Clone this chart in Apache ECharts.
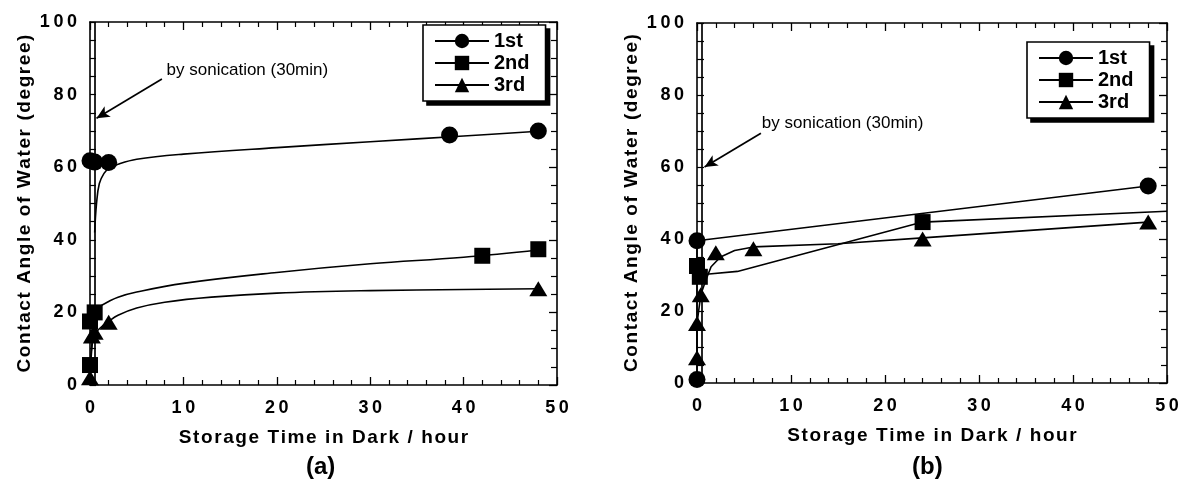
<!DOCTYPE html>
<html>
<head>
<meta charset="utf-8">
<script src="https://cdn.jsdelivr.net/npm/echarts@6/dist/echarts.min.js"></script>
<style>
html, body { margin: 0; padding: 0; background: #fff; }
#chart { width: 1184px; height: 490px; }
</style>
</head>
<body>
<div id="chart"></div>
<script>
// sonication step: 30 min = 0.5 hour
var sonicationTime = 0.5;

// panel (a) measured points [hour, degree]
var a1st = [[0, 61.8], [0.5, 61.4], [2, 61.3], [38.5, 68.9], [48, 70.0]];
var a2nd = [[0, 5.5], [0, 17.5], [0.5, 20], [42, 35.6], [48, 37.4]];
var a3rd = [[0, 2], [0.2, 13.5], [0.5, 14.5], [2, 17.3], [48, 26.5]];

// panel (a) fitted curves
var a1stFit = [[0.5, 42], [0.7, 50], [1, 55.5], [1.5, 58.3], [2, 59.6], [3, 60.8], [5, 62.2], [10, 63.6], [20, 65.4], [30, 67], [40, 68.6], [48, 69.9]];
var a2ndFit = [[0, 5.5], [0.3, 14], [0.5, 20], [1, 21.5], [2, 23], [3, 24.2], [5, 25.6], [10, 28], [20, 31], [30, 33.4], [40, 35.2], [48, 37.2]];
var a3rdFit = [[0, 2], [0.3, 13], [0.5, 14], [1, 15.5], [2, 17.5], [3, 19.2], [5, 21.2], [8, 22.8], [13, 24.2], [20, 25.3], [30, 26], [40, 26.3], [48, 26.5]];

// panel (b) measured points
var b1st = [[0, 1], [0, 39.5], [48, 54.7]];
var b2nd = [[0, 32.5], [0.3, 29.5], [24, 44.7]];
var b3rd = [[0, 7], [0, 16.5], [0.4, 24.5], [2, 36.2], [6, 37.3], [24, 40], [48, 44.7]];

// panel (b) curves
var b1stFit = [[0, 1], [0, 39.5], [48, 54.7]];
var b2ndFit = [[0.3, 29.5], [1, 30.2], [4.3, 31], [24, 44.7], [50, 47.7]];
var b3rdFit = [[0, 7], [0, 16.5], [0.4, 24.5], [1, 29], [1.5, 32.3], [2.5, 35], [4, 36.8], [6, 37.8], [15, 38.7], [24, 40.3], [48, 44.7]];

var seriesNames = ['1st', '2nd', '3rd'];
var symbols = ['circle', 'rect', 'triangle'];
var symbolSizes = [17, 16, [18, 15]];

var chart = echarts.init(document.getElementById('chart'));

// the printed figure uses letter-spaced type
function spaced(v) {
    return String(v).split('').join('\u2009');
}
function hair(v) {
    return String(v).split('').join('\u200A');
}

var labelFont = {
    color: '#000', fontFamily: 'Liberation Sans, Arial', fontWeight: 'bold', fontSize: 18
};
var nameFont = {
    color: '#000', fontFamily: 'Liberation Sans, Arial', fontWeight: 'bold', fontSize: 19
};

function xAxes(gi) {
    var line = {show: true, onZero: false, lineStyle: {color: '#000', width: 1.6}};
    return [{
            gridIndex: gi, type: 'value', min: 0, max: 50, interval: 10, position: 'bottom',
            axisLine: line,
            axisTick: {inside: true, length: 8, lineStyle: {color: '#000', width: 1.3}},
            minorTick: {show: true, splitNumber: 5, length: 5, lineStyle: {color: '#000', width: 1.2}},
            splitLine: {show: false},
            axisLabel: Object.assign({margin: 14, formatter: spaced}, labelFont),
            name: hair('Storage Time in Dark / hour'), nameLocation: 'middle', nameGap: 43,
            nameTextStyle: nameFont
        }, {
            gridIndex: gi, type: 'value', min: 0, max: 50, interval: 10, position: 'top',
            axisLine: line,
            axisTick: {inside: true, length: 8, lineStyle: {color: '#000', width: 1.3}},
            minorTick: {show: true, splitNumber: 5, length: 5, lineStyle: {color: '#000', width: 1.2}},
            splitLine: {show: false},
            axisLabel: {show: false}
        }];
}

function yAxes(gi, ladder) {
    var line = {show: true, onZero: false, lineStyle: {color: '#000', width: 1.6}};
    return [{
            gridIndex: gi, type: 'value', min: 0, max: 100, interval: 20, position: 'left',
            axisLine: line,
            axisTick: {inside: true, length: ladder, lineStyle: {color: '#000', width: 1.2}},
            minorTick: {show: true, splitNumber: 4, length: ladder, lineStyle: {color: '#000', width: 1.2}},
            splitLine: {show: false},
            axisLabel: Object.assign({margin: 13, formatter: spaced}, labelFont),
            name: hair('Contact Angle of Water (degree)'), nameLocation: 'middle', nameGap: 56,
            nameTextStyle: nameFont
        }, {
            gridIndex: gi, type: 'value', min: 0, max: 100, interval: 20, position: 'right',
            axisLine: line,
            axisTick: {inside: true, length: 8, lineStyle: {color: '#000', width: 1.3}},
            minorTick: {show: true, splitNumber: 4, length: 6, lineStyle: {color: '#000', width: 1.2}},
            splitLine: {show: false},
            axisLabel: {show: false}
        }];
}

function panelSeries(gi, pts, fits, smooth, arrowFrom, arrowTo, textAt) {
    var out = [];
    var i;
    for (i = 0; i < 3; i++) {
        out.push({
            name: seriesNames[i], type: 'line', xAxisIndex: gi * 2, yAxisIndex: gi * 2,
            data: fits[i], smooth: smooth, showSymbol: false, symbol: symbols[i],
            lineStyle: {color: '#000', width: 1.6}, itemStyle: {color: '#000'},
            silent: true, z: 2, animation: false
        });
    }
    for (i = 0; i < 3; i++) {
        var s = {
            name: seriesNames[i] + ' pts', type: 'scatter', xAxisIndex: gi * 2, yAxisIndex: gi * 2,
            data: pts[i], symbol: symbols[i], symbolSize: symbolSizes[i],
            itemStyle: {color: '#000', opacity: 1}, z: 3, animation: false
        };
        if (i === 0) {
            s.markLine = {
                silent: true, animation: false,
                lineStyle: {color: '#000', width: 1.7, type: 'solid'},
                label: {show: false},
                data: [
                    [{coord: [sonicationTime, 0], symbol: 'none'}, {coord: [sonicationTime, 100], symbol: 'none'}],
                    [{coord: arrowFrom, symbol: 'none'}, {coord: arrowTo, symbol: 'arrow', symbolSize: [9, 13]}]
                ]
            };
            s.markPoint = {
                silent: true, animation: false, symbol: 'circle', symbolSize: 0,
                label: {show: true, position: 'right', distance: 0, formatter: 'by sonication (30min)',
                    color: '#000', fontFamily: 'Liberation Sans, Arial', fontSize: 17},
                data: [{coord: textAt}]
            };
        }
        out.push(s);
    }
    return out;
}

var legendBase = {
    orient: 'vertical', itemWidth: 54, itemHeight: 18, itemGap: 2, itemTextGap: 3,
    data: seriesNames, selectedMode: false, z: 10,
    backgroundColor: '#fff', borderColor: '#000', borderWidth: 1.6, borderRadius: 0,
    padding: [6, 16, 6, 11],
    textStyle: {color: '#000', fontFamily: 'Liberation Sans, Arial', fontWeight: 'bold', fontSize: 20, lineHeight: 18}
};

var option = {
    backgroundColor: '#fff',
    animation: false,
    grid: [
        {left: 90, top: 22, width: 467, height: 363},
        {left: 697, top: 23, width: 470, height: 360}
    ],
    xAxis: xAxes(0).concat(xAxes(1)),
    yAxis: yAxes(0, 6).concat(yAxes(1, 7)),
    legend: [
        Object.assign({left: 423, top: 25}, legendBase),
        Object.assign({left: 1027, top: 42}, legendBase)
    ],
    graphic: [],
    series: panelSeries(0, [a1st, a2nd, a3rd], [a1stFit, a2ndFit, a3rdFit], 0.4, [7.7, 84.3], [0.7, 73.5], [8.2, 86.8])
        .concat(panelSeries(1, [b1st, b2nd, b3rd], [b1stFit, b2ndFit, b3rdFit], false, [6.8, 69.4], [0.8, 60], [6.9, 72.2]))
};

chart.setOption(option);

// drop shadows behind the legend boxes, sized from the rendered legends
var graphics = [
    {type: 'text', left: 306, top: 455, style: {text: '(a)', fill: '#000', font: 'bold 24px Liberation Sans, Arial'}},
    {type: 'text', left: 912, top: 455, style: {text: '(b)', fill: '#000', font: 'bold 24px Liberation Sans, Arial'}}
];
var legendModels = chart.getModel().getComponent('legend') ? [0, 1] : [];
legendModels.forEach(function (idx) {
    var model = chart.getModel().getComponent('legend', idx);
    var view = chart.getViewOfComponentModel ? chart.getViewOfComponentModel(model) : null;
    var rect = null;
    if (view && view.group) {
        rect = view.group.getBoundingRect();
        rect.applyTransform(view.group.transform);
    }
    if (!rect) {
        rect = idx === 0 ? {x: 423, y: 25, width: 123, height: 75} : {x: 1027, y: 42, width: 123, height: 75};
    }
    graphics.push({
        type: 'rect', z: 9, silent: true,
        shape: {x: rect.x + 4, y: rect.y + 4, width: rect.width, height: rect.height},
        style: {fill: '#000'}
    });
});
chart.setOption({graphic: graphics});
</script>
</body>
</html>
